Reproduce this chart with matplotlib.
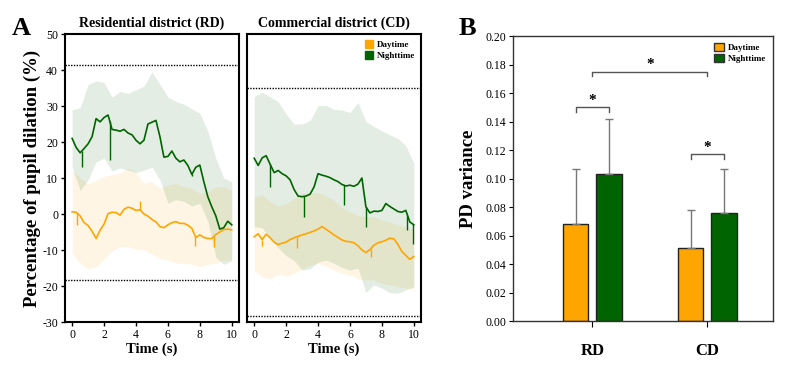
import numpy as np
import matplotlib
matplotlib.use('Agg')
import matplotlib.pyplot as plt
from matplotlib.patches import Patch

plt.rcParams['font.family'] = ['Liberation Serif', 'DejaVu Serif']
plt.rcParams['axes.unicode_minus'] = False

ORANGE = '#FFA500'
GREEN = '#006400'

# ---------------- panel A data ----------------
t_mean = np.linspace(0, 10, 41)   # 0.25 s grid
t_band = np.linspace(0, 10, 21)   # 0.5 s grid

rd_night_mean = [21, 18.5, 17, 18.2, 19.5, 21.5, 26.5, 25.6, 26.8, 27.5,
                 23.5, 23.3, 23, 23.5, 22.5, 22, 20.5, 19.5, 20.5, 25,
                 25.5, 26, 21.5, 15.8, 16, 17.5, 15.5, 14.5, 15, 13.5,
                 11, 13, 13.6, 9, 4.8, 2, -0.5, -4.2, -3.8, -2, -3]
rd_night_hi = [29, 29.5, 36, 37, 36.5, 32.5, 34, 33.5, 34.5, 35.5, 39.5,
               36, 32.5, 31.3, 30.5, 29.2, 28, 23, 15.5, 10, 9]
rd_night_lo = [13, 6.5, 9.5, 14.5, 15.5, 12, 12.8, 12.2, 11.5, 12.2, 13,
               9.5, 3, 4, 3.5, 2.2, 3, -2, -12, -14, -13]

rd_day_mean = [0.6, 0.5, -0.5, -2.4, -3.2, -4.8, -6.8, -4.5, -2.8, 0.1,
               0.5, 0.4, -0.3, 1.3, 1.9, 1.6, 1.0, 1.2, 0, -0.6,
               -1.5, -2.2, -3.5, -3.8, -3, -2.4, -2.1, -2.6, -2.6, -3.1,
               -4, -6.5, -5.8, -6.5, -6.8, -6.8, -5.7, -5, -4.3, -4.2, -4.4]
rd_day_hi = [12.2, 10, 8.5, 9.3, 10.5, 11, 11.3, 12.8, 11.5, 8.6, 9,
             7.2, 8, 8.5, 7.6, 7.2, 5.7, 6.3, 7.5, 7.6, 6.7]
rd_day_lo = [-11, -13.7, -15.3, -14.7, -12.6, -10.3, -9.1, -9.1, -9.9, -10, -11.1,
             -12.3, -12.8, -13.6, -13.7, -13.9, -14.6, -14, -13.7, -12.8, -12.8]

cd_night_mean = [15.5, 13.5, 15.6, 16.2, 13.8, 11.5, 12.1, 11.2, 10.6, 9.5,
                 6.8, 5, 4.8, 5, 5.5, 7.5, 11.2, 10.8, 10.5, 10.1,
                 9.5, 9, 8.2, 7.8, 8, 7.7, 8.3, 10, 2, 0.3,
                 0.8, 0.7, 1, 2.9, 2.1, 1.4, 0.7, 0.5, 1, -2.2, -3]
cd_night_hi = [32.6, 33.8, 32.6, 31.2, 27.8, 25, 25, 26, 30.1, 30.2, 29.1,
               28.9, 28.2, 31, 25.7, 24.3, 23.1, 22, 21, 19, 14.1]
cd_night_lo = [-3.5, -3.8, -6.8, -9.4, -11.6, -12.9, -15.6, -15.2, -13.4, -12.8, -13.7,
               -14.8, -15.6, -15, -21.8, -19.7, -20.6, -21.9, -22, -21.1, -20.2]

cd_day_mean = [-6.3, -5.5, -7.1, -5.6, -6.6, -7.8, -8.5, -8.1, -7.8, -7.1,
               -6.6, -6.2, -5.8, -5.5, -5.1, -4.7, -4.2, -3.5, -4.2, -5,
               -5.8, -6.5, -7.2, -7.6, -7.7, -8, -8.8, -10, -10.7, -9.9,
               -8.7, -8, -7.7, -7.3, -6.7, -6.9, -8.4, -10.4, -11.5, -12.6, -11.8]
cd_day_hi = [4.8, 5.3, 3.5, 2.3, 2.9, 4.4, 5.8, 6, 6, 5, 3.8,
             1.8, 0.7, -0.4, -0.7, -0.7, -1.7, -2.1, -3.1, -3.5, -4.4]
cd_day_lo = [-15.6, -17.6, -17.9, -16.8, -17.3, -16.5, -15.3, -14.2, -13.7, -14.5, -15.6,
             -16.5, -16.9, -18, -18.3, -18.3, -19.3, -19.7, -20.2, -20.5, -21.1]

# short downward / upward spikes on the mean traces (time, tip value)
rd_night_spk_t = [0.6, 2.36, 7.5]
rd_night_spk_v = [13, 15, 10.5]
rd_day_spk_t = [0.3, 4.25, 7.7, 8.9]
rd_day_spk_v = [-3, 3.5, -9, -9.3]
cd_night_spk_t = [1.0, 3.1, 5.6, 7.0, 9.6, 9.95]
cd_night_spk_v = [7.5, -0.7, 2.5, -3.5, -4.5, -8.2]
cd_day_spk_t = [0.5, 2.7, 7.3]
cd_day_spk_v = [-9, -9.5, -12]

rd_thresh = [41.5, -18.3]
cd_thresh = [35, -28.3]

# ---------------- panel B data ----------------
districts = ['RD', 'CD']
pd_day = [0.068, 0.051]
pd_day_err = [0.039, 0.027]
pd_night = [0.103, 0.076]
pd_night_err = [0.039, 0.031]
# significance brackets: (x0, x1, y)
sig_pairs = [(-0.145, 0.145, 0.150), (0.0, 1.0, 0.175), (0.855, 1.145, 0.117)]

fig = plt.figure(figsize=(8.08, 3.67), dpi=100)
a1 = fig.add_axes([0.0804, 0.1226, 0.2153, 0.7847])
a2 = fig.add_axes([0.3057, 0.1226, 0.2153, 0.7847])
b = fig.add_axes([0.6349, 0.1253, 0.3218, 0.7766])


def panel(ax, day, night, thresh, title):
    for (mean, hi, lo, st, sv), col, al in ((day, ORANGE, 0.10), (night, GREEN, 0.11)):
        ax.fill_between(t_band, lo, hi, color=col, alpha=al, lw=0)
        ax.plot(t_mean, mean, color=col, lw=1.2)
        base = np.interp(st, t_mean, mean)
        ax.vlines(st, base, sv, color=col, lw=1.0)
    for y in thresh:
        ax.axhline(y, color='black', ls=(0, (1, 1)), lw=1.0)
    ax.set_xlim(-0.45, 10.45)
    ax.set_ylim(-30, 50)
    ax.set_xticks([0, 2, 4, 6, 8, 10])
    ax.set_yticks(range(-30, 51, 10))
    ax.tick_params(direction='out', length=3, width=1, labelsize=8.5, pad=2)
    for s in ax.spines.values():
        s.set_linewidth(1.5)
    ax.set_title(title, fontsize=10, fontweight='bold', pad=5)
    ax.set_xlabel('Time (s)', fontsize=10.5, fontweight='bold', labelpad=1)


panel(a1, (rd_day_mean, rd_day_hi, rd_day_lo, rd_day_spk_t, rd_day_spk_v),
      (rd_night_mean, rd_night_hi, rd_night_lo, rd_night_spk_t, rd_night_spk_v),
      rd_thresh, 'Residential district (RD)')
panel(a2, (cd_day_mean, cd_day_hi, cd_day_lo, cd_day_spk_t, cd_day_spk_v),
      (cd_night_mean, cd_night_hi, cd_night_lo, cd_night_spk_t, cd_night_spk_v),
      cd_thresh, 'Commercial district (CD)')
a1.set_ylabel('Percentage of pupil dilation (%)', fontsize=13.5, fontweight='bold', labelpad=1)
a2.tick_params(axis='y', left=False, labelleft=False)

handles = [Patch(facecolor=ORANGE, edgecolor=ORANGE, label='Daytime'),
           Patch(facecolor=GREEN, edgecolor=GREEN, label='Nighttime')]
a2.legend(handles=handles, loc='upper right', frameon=False,
          prop={'weight': 'bold', 'size': 6.5}, handlelength=0.9, handleheight=0.9,
          handletextpad=0.4, labelspacing=0.25, borderaxespad=0.3)

# ---------------- panel B ----------------
x = np.arange(len(districts))
w = 0.22
off = 0.145
b.bar(x - off, pd_day, w, color=ORANGE, edgecolor='#222222', lw=1.0,
      yerr=[[0] * 2, pd_day_err], error_kw=dict(ecolor='#777777', elinewidth=1, capsize=3, capthick=1))
b.bar(x + off, pd_night, w, color=GREEN, edgecolor='#222222', lw=1.0,
      yerr=[[0] * 2, pd_night_err], error_kw=dict(ecolor='#777777', elinewidth=1, capsize=3, capthick=1))
for x0, x1, y in sig_pairs:
    b.plot([x0, x0, x1, x1], [y - 0.003, y, y, y - 0.003], color='#555555', lw=1)
    b.text((x0 + x1) / 2, y + 0.0005, '*', ha='center', va='bottom', fontsize=11, fontweight='bold')
b.set_xlim(-0.69, 1.57)
b.set_ylim(0, 0.20)
b.set_yticks(np.arange(0, 0.201, 0.02))
b.yaxis.set_major_formatter(matplotlib.ticker.FormatStrFormatter('%.2f'))
b.set_xticks(x)
b.set_xticklabels(districts, fontsize=12, fontweight='bold')
b.tick_params(axis='x', direction='out', length=4, pad=12)
b.tick_params(axis='y', direction='out', length=3, labelsize=8.5, pad=2)
for s in b.spines.values():
    s.set_linewidth(1.0)
    s.set_color('#333333')
b.set_ylabel('PD variance', fontsize=13.5, fontweight='bold', labelpad=6)
b.legend(handles=[Patch(facecolor=ORANGE, edgecolor='#333333', label='Daytime'),
                  Patch(facecolor=GREEN, edgecolor='#333333', label='Nighttime')],
         loc='upper right', frameon=False, prop={'weight': 'bold', 'size': 6.5},
         handlelength=1.1, handleheight=0.9, handletextpad=0.4, labelspacing=0.25,
         borderaxespad=0.4)

fig.text(0.014, 0.905, 'A', fontsize=19, fontweight='bold')
fig.text(0.567, 0.905, 'B', fontsize=19, fontweight='bold')

fig.savefig('out.png', dpi=100)
